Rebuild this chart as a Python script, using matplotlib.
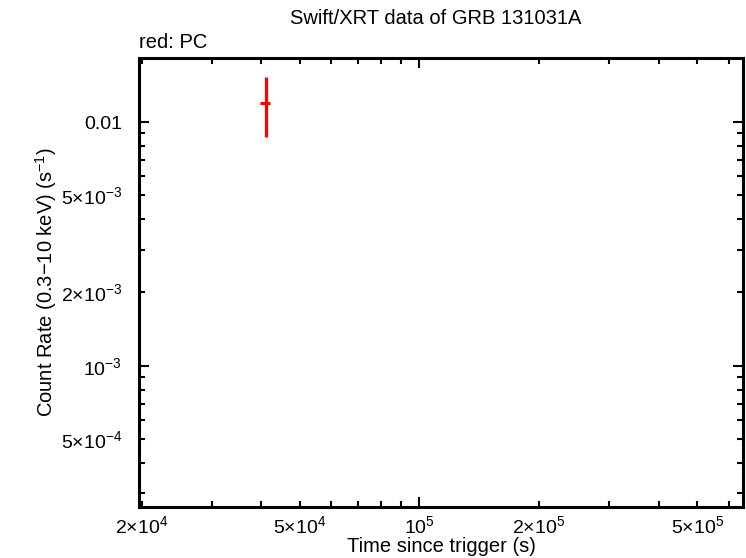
import numpy as np
import matplotlib
matplotlib.use("Agg")
import matplotlib.pyplot as plt
import matplotlib.ticker as mticker

plt.rcParams['font.family'] = ['Liberation Sans', 'DejaVu Sans']
plt.rcParams['font.size'] = 14.5
plt.rcParams['mathtext.fontset'] = 'custom'
plt.rcParams['mathtext.rm'] = 'Liberation Sans'
plt.rcParams['mathtext.it'] = 'Liberation Sans'

# data: one PC point
t = np.array([4.11e4])
t_lo = np.array([3.98e4])
t_hi = np.array([4.21e4])
rate = np.array([1.196e-2])
rate_lo = np.array([8.70e-3])
rate_hi = np.array([1.533e-2])

xlim = (1.97e4, 6.52e5)
ylim = (2.64e-4, 1.83e-2)

x_labels = {2e4: r'$2{\times}10^{4}$', 5e4: r'$5{\times}10^{4}$', 1e5: r'$10^{5}$',
            2e5: r'$2{\times}10^{5}$', 5e5: r'$5{\times}10^{5}$'}
y_labels = {1e-2: '0.01', 5e-3: r'$5{\times}10^{-3}$', 2e-3: r'$2{\times}10^{-3}$',
            1e-3: r'$10^{-3}$', 5e-4: r'$5{\times}10^{-4}$'}


def lab(table):
    def f(v, pos):
        for k, s in table.items():
            if abs(v - k) / k < 1e-6:
                return s
        return ''
    return mticker.FuncFormatter(f)


fig = plt.figure(figsize=(7.46, 5.58), dpi=100)
ax = fig.add_axes([139 / 746, 1 - 507 / 558, (743 - 139) / 746, (507 - 58) / 558])
ax.set_xscale('log')
ax.set_yscale('log')
ax.set_xlim(*xlim)
ax.set_ylim(*ylim)

ax.errorbar(t, rate, xerr=[t - t_lo, t_hi - t], yerr=[rate - rate_lo, rate_hi - rate],
            fmt='none', ecolor='red', elinewidth=2.3, capsize=0)

for axis in (ax.xaxis, ax.yaxis):
    axis.set_major_locator(mticker.LogLocator(base=10))
    axis.set_minor_locator(mticker.LogLocator(base=10, subs=np.arange(2, 10)))
ax.xaxis.set_major_formatter(lab(x_labels))
ax.xaxis.set_minor_formatter(lab(x_labels))
ax.yaxis.set_major_formatter(lab(y_labels))
ax.yaxis.set_minor_formatter(lab(y_labels))

ax.tick_params(which='both', direction='in', top=True, right=True, width=1.5,
               colors='black', labelsize=14)
ax.tick_params(which='major', length=7)
ax.tick_params(which='minor', length=4)
ax.tick_params(axis='x', which='both', pad=6)
ax.tick_params(axis='y', which='both', pad=12)
for sp in ax.spines.values():
    sp.set_linewidth(2.2)

ax.set_xlabel('Time since trigger (s)', va='center')
ax.xaxis.set_label_coords(0.5, -(546 - 507) / 449)
ax.set_ylabel(r'Count Rate (0.3$-$10 keV) (s$^{-1}$)', va='center', ha='center')
ax.yaxis.set_label_coords(-(139 - 46) / 604, 0.5)
fig.text(436 / 746, 1 - 18 / 558, 'Swift/XRT data of GRB 131031A', ha='center', va='center')
fig.text(139 / 746, 1 - 42 / 558, 'red: PC', ha='left', va='center')

fig.savefig('out.png', dpi=100)
